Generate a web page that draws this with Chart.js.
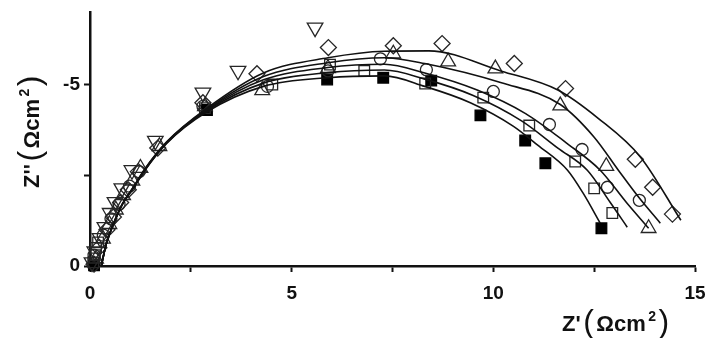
<!DOCTYPE html>
<html>
<head>
<meta charset="utf-8">
<script src="https://cdn.jsdelivr.net/npm/chart.js@4.4.1/dist/chart.umd.min.js"></script>
<style>
  html, body { margin: 0; padding: 0; background: #fff; }
  #wrap { width: 710px; height: 338px; position: relative; }
</style>
</head>
<body>
<div id="wrap"><canvas id="c"></canvas></div>
<script>
// Nyquist plot: Z' (real) vs Z'' (imaginary), Ωcm²
const xTickStep = 2.5;
const xRange = [0, 15];
const yRange = [-7, 0];
const yTickValues = [0, -2.5, -5];

// measured impedance points, one array per sample
const downTri = [[0.05,-0.1],[0.12,-0.4],[0.25,-0.77],[0.37,-1.07],[0.5,-1.46],[0.62,-1.76],[0.79,-2.14],[1.04,-2.64],[1.62,-3.45],[2.8,-4.78],[3.67,-5.38],[5.58,-6.57]];
const diamond = [[0.1,-0.05],[0.22,-0.5],[0.42,-1.0],[0.58,-1.35],[0.76,-1.75],[0.95,-2.1],[1.2,-2.6],[1.68,-3.25],[2.8,-4.5],[4.14,-5.3],[5.91,-6.02],[7.52,-6.07],[8.73,-6.13],[10.52,-5.58],[11.79,-4.89],[13.52,-2.94],[13.95,-2.17],[14.44,-1.43]];
const upTri = [[0.15,-0.2],[0.32,-0.75],[0.48,-1.15],[0.64,-1.55],[0.82,-1.95],[1.05,-2.35],[1.25,-2.7],[1.72,-3.3],[2.85,-4.4],[4.27,-4.84],[5.9,-5.45],[7.52,-5.85],[8.88,-5.63],[10.05,-5.44],[11.66,-4.42],[12.8,-2.75],[13.85,-1.04]];
const circle = [[0.1,-0.3],[0.33,-0.85],[0.52,-1.3],[0.72,-1.7],[0.98,-2.2],[1.22,-2.6],[2.8,-4.4],[4.4,-4.95],[5.9,-5.38],[7.2,-5.71],[8.34,-5.41],[10.0,-4.81],[11.39,-3.9],[12.2,-3.21],[12.83,-2.17],[13.62,-1.81]];
const openSq = [[0.08,-0.1],[0.12,-0.3],[0.15,-0.5],[0.2,-0.65],[2.85,-4.35],[4.52,-5.0],[5.95,-5.55],[6.8,-5.38],[8.31,-5.03],[9.75,-4.64],[10.89,-3.87],[12.03,-2.88],[12.5,-2.14],[12.95,-1.46]];
const filledSq = [[0.1,-0.02],[2.9,-4.3],[5.88,-5.14],[7.27,-5.19],[8.46,-5.11],[9.68,-4.15],[10.79,-3.46],[11.29,-2.83],[12.68,-1.04]];

// equivalent-circuit fit curves
const fitDiamond = [[0.28,0],[0.4,-0.6],[0.56,-1.1],[0.8,-1.7],[1.1,-2.22],[1.35,-2.66],[1.9,-3.42],[2.9,-4.35],[4.3,-5.32],[5.9,-5.74],[7.3,-5.92],[8.4,-5.93],[10.2,-5.37],[11.6,-4.85],[12.6,-4.07],[13.65,-3.0],[14.65,-1.26]];
const fitUpTri = [[0.28,0],[0.4,-0.6],[0.56,-1.1],[0.8,-1.7],[1.1,-2.21],[1.35,-2.65],[1.9,-3.41],[2.9,-4.32],[4.3,-5.22],[5.9,-5.6],[7.3,-5.74],[8.3,-5.58],[10.2,-5.05],[11.66,-4.45],[12.5,-3.55],[13.1,-2.64],[13.6,-1.9],[14.14,-1.18]];
const fitCircle = [[0.28,0],[0.4,-0.6],[0.56,-1.1],[0.8,-1.7],[1.1,-2.2],[1.35,-2.64],[1.9,-3.4],[2.9,-4.3],[4.3,-5.13],[5.9,-5.47],[7.3,-5.56],[8.3,-5.32],[9.6,-4.85],[10.8,-4.2],[11.8,-3.4],[12.65,-2.64],[13.3,-1.75],[13.85,-1.04]];
const fitOpenSq = [[0.28,0],[0.4,-0.6],[0.56,-1.1],[0.8,-1.7],[1.1,-2.19],[1.35,-2.63],[1.9,-3.39],[2.9,-4.28],[4.3,-5.04],[5.9,-5.33],[7.3,-5.4],[8.3,-5.15],[9.5,-4.7],[10.7,-4.0],[11.6,-3.25],[12.33,-2.64],[12.9,-1.75],[13.32,-1.07]];
const fitFilledSq = [[0.28,0],[0.4,-0.6],[0.56,-1.1],[0.8,-1.7],[1.1,-2.18],[1.35,-2.62],[1.9,-3.38],[2.9,-4.25],[4.3,-4.95],[5.9,-5.19],[7.3,-5.24],[8.3,-4.95],[9.43,-4.5],[10.5,-3.85],[11.1,-3.33],[11.84,-2.64],[12.23,-2.0],[12.65,-1.18]];

const toXY = arr => arr.map(([x, y]) => ({ x, y }));
const ink = '#262626';

function markers(data, style, radius, extra) {
  return Object.assign({
    data: toXY(data),
    showLine: false,
    pointStyle: style,
    pointRadius: radius,
    pointBorderColor: ink,
    pointBackgroundColor: 'rgba(0,0,0,0)',
    pointBorderWidth: 1.3,
    clip: false
  }, extra || {});
}
function fit(data) {
  return {
    data: toXY(data),
    showLine: true,
    pointRadius: 0,
    borderColor: '#111',
    borderWidth: 1.6,
    cubicInterpolationMode: 'monotone',
    fill: false,
    clip: false
  };
}

const FONT = '"Liberation Sans", Arial, sans-serif';

// axis titles with tall parentheses and a superscript 2
function titleRuns(primes) {
  return [
    { t: 'Z' + primes, f: 'bold 22px ' + FONT, dy: 0 },
    { t: '(', f: '32px ' + FONT, dy: 1 },
    { t: 'Ωcm', f: 'bold 22px ' + FONT, dy: 0 },
    { t: '2', f: 'bold 14px ' + FONT, dy: -10 },
    { t: ')', f: '32px ' + FONT, dy: 1 }
  ];
}
function drawRuns(ctx, runs, x, y) {
  let cx = x;
  ctx.textBaseline = 'alphabetic';
  ctx.textAlign = 'left';
  ctx.fillStyle = '#111';
  for (const r of runs) {
    ctx.font = r.f;
    ctx.fillText(r.t, cx, y + r.dy);
    cx += ctx.measureText(r.t).width + 2.5;
  }
}
const axisTitles = {
  id: 'axisTitles',
  afterDraw(chart) {
    const ctx = chart.ctx;
    ctx.save();
    drawRuns(ctx, titleRuns("'"), 562, 331);
    ctx.restore();
    ctx.save();
    ctx.translate(39, 188);
    ctx.rotate(-Math.PI / 2);
    drawRuns(ctx, titleRuns("''"), 0, 0);
    ctx.restore();
  }
};

new Chart(document.getElementById('c'), {
  type: 'scatter',
  data: {
    datasets: [
      fit(fitDiamond), fit(fitUpTri), fit(fitCircle), fit(fitOpenSq), fit(fitFilledSq),
      markers(downTri, 'triangle', 9, { rotation: 180 }),
      markers(diamond, 'rectRot', 8),
      markers(upTri, 'triangle', 8.5),
      markers(circle, 'circle', 6),
      markers(openSq, 'rect', 7.5),
      markers(filledSq, 'rect', 7.5, { pointBackgroundColor: '#000', pointBorderColor: '#000' })
    ]
  },
  plugins: [axisTitles],
  options: {
    responsive: true,
    maintainAspectRatio: false,
    animation: false,
    layout: { padding: { left: 0, right: 15, top: 12, bottom: 0 } },
    plugins: { legend: { display: false }, tooltip: { enabled: false } },
    scales: {
      x: {
        type: 'linear',
        min: xRange[0], max: xRange[1],
        afterFit(s) { s.height = 72; s.paddingLeft = 0; s.paddingRight = 0; },
        ticks: {
          stepSize: xTickStep,
          autoSkip: false,
          maxRotation: 0,
          padding: 10,
          color: '#111',
          font: { family: FONT, size: 19, weight: 'bold' },
          callback: v => (v % 5 === 0 ? String(v) : '')
        },
        grid: { drawOnChartArea: false, drawTicks: true, tickLength: 6, tickWidth: 2, tickColor: '#111' },
        border: { display: true, color: '#111', width: 2.5 }
      },
      y: {
        type: 'linear',
        min: yRange[0], max: yRange[1],
        reverse: true,
        afterFit(s) { s.width = 90; s.paddingTop = 0; s.paddingBottom = 0; },
        afterBuildTicks(s) { s.ticks = yTickValues.map(v => ({ value: v })); },
        ticks: {
          autoSkip: false,
          padding: 4,
          color: '#111',
          font: { family: FONT, size: 19, weight: 'bold' },
          callback: v => (v % 5 === 0 ? String(v) : '')
        },
        grid: { drawOnChartArea: false, drawTicks: true, tickLength: 6, tickWidth: 2, tickColor: '#111' },
        border: { display: true, color: '#111', width: 2.5 }
      }
    }
  }
});
</script>
</body>
</html>
